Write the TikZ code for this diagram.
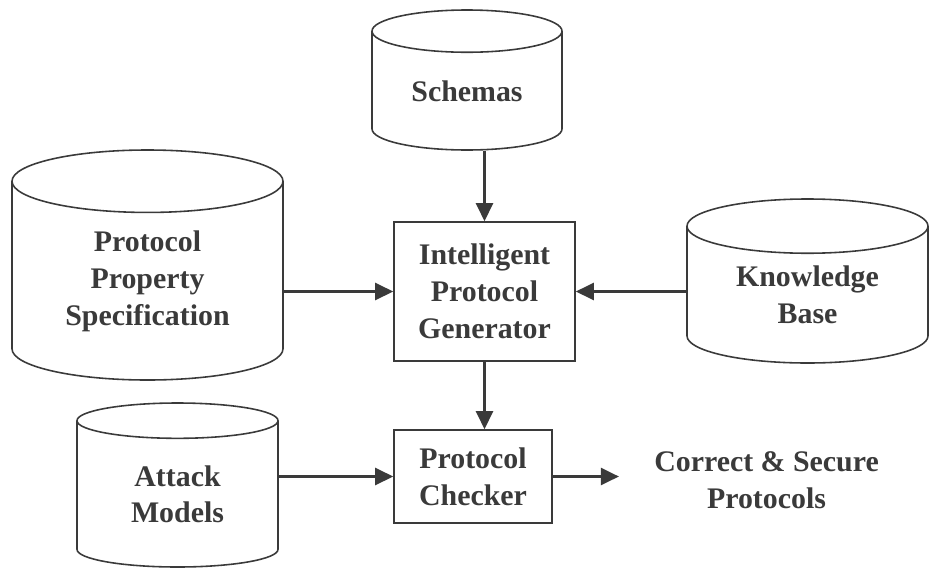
\documentclass[tikz,border=0pt]{standalone}
\usepackage{fontspec}
\setmainfont{Liberation Serif}
\usetikzlibrary{arrows.meta,positioning,shapes.geometric}
\definecolor{inkgray}{HTML}{3A3A3A}

\begin{document}
\begin{tikzpicture}[
  font=\fontsize{17}{21}\selectfont\bfseries,
  drum/.style={draw=inkgray, line width=0.9pt, cylinder, shape border rotate=90, aspect=0.38, anchor=shape center, text=inkgray, align=center, inner sep=0pt},
  unit/.style={draw=inkgray, line width=0.9pt, text=inkgray, align=center, inner sep=0pt},
  flow/.style={draw=inkgray, line width=1.3pt, -{Triangle[length=0.36cm,width=0.34cm]}}
]
\useasboundingbox (0,0) rectangle (18.6,-11.34);
\node[drum, minimum width=3.8cm, minimum height=2.8cm] (sch) at (9.34,-1.6) {Schemas};
\node[drum, minimum width=5.42cm, minimum height=4.6cm] (pps) at (2.95,-5.3) {Protocol\\Property\\Specification};
\node[drum, minimum width=4.82cm, minimum height=3.28cm] (kb) at (16.15,-5.62) {Knowledge\\Base};
\node[drum, minimum width=4.02cm, minimum height=3.28cm] (atk) at (3.55,-9.7) {Attack\\Models};
\node[unit, minimum width=3.62cm, minimum height=2.78cm] (ipg) at (9.69,-5.83) {Intelligent\\Protocol\\Generator};
\node[unit, minimum width=3.16cm, minimum height=1.86cm] (pc) at (9.46,-9.53) {Protocol\\Checker};
\node[text=inkgray, align=center, inner sep=0pt] (out) at (15.33,-9.6) {Correct \& Secure\\Protocols};
\draw[flow] (sch.south -| ipg.north) -- (ipg.north);
\draw[flow] (pps.east |- ipg.west) -- (ipg.west);
\draw[flow] (kb.west |- ipg.east) -- (ipg.east);
\draw[flow] (ipg.south) -- (ipg.south |- pc.north);
\draw[flow] (atk.east |- pc.west) -- (pc.west);
\draw[flow, shorten >=0.7cm] (pc.east) -- (pc.east -| out.west);
\end{tikzpicture}
\end{document}
